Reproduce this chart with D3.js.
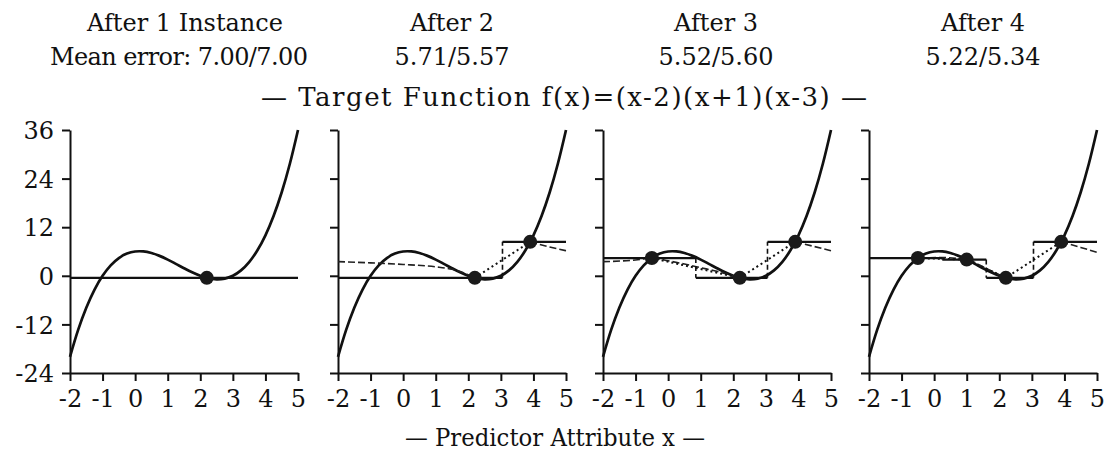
<!DOCTYPE html>
<html><head><meta charset="utf-8">
<script src="https://cdn.jsdelivr.net/npm/d3@7"></script>
<style>
html,body{margin:0;padding:0;background:#fff;}
svg{display:block;}
svg text{font-family:"DejaVu Serif",serif;fill:#111;}
</style></head>
<body>
<svg id="chart" width="1106" height="455"></svg>
<script>
// ---- data ----
const xTicks = [-2, -1, 0, 1, 2, 3, 4, 5];
const yTicks = [36, 24, 12, 0, -12, -24];
const panelTitles = ["After 1 Instance", "After 2", "After 3", "After 4"];
const errorLabels = ["Mean error: 7.00/7.00", "5.71/5.57", "5.52/5.60", "5.22/5.34"];
const targetLabel = "\u2014 Target Function f(x)=(x-2)(x+1)(x-3) \u2014";
const xLabel = "\u2014 Predictor Attribute x \u2014";

// target function samples
const targetX = [-2, -1.75, -1.5, -1.25, -1, -0.75, -0.5, -0.25, 0, 0.25, 0.5, 0.75, 1, 1.25, 1.5, 1.75, 2, 2.25, 2.5, 2.75, 3, 3.25, 3.5, 3.75, 4, 4.25, 4.5, 4.75, 5];
const targetY = [-20, -13.36, -7.88, -3.45, 0, 2.58, 4.38, 5.48, 6, 6.02, 5.63, 4.92, 4, 2.95, 1.88, 0.86, 0, -0.61, -0.88, -0.70, 0, 1.33, 3.38, 6.23, 10, 14.77, 20.63, 27.67, 36];

// training instances in order of arrival
const instanceX = [2.2, 3.9, -0.5, 1.0];
const instanceY = [-0.51, 8.38, 4.38, 4.0];

// nearest-neighbour step prediction per panel
const stepBreaks = [[], [3.05], [0.85, 3.05], [0.25, 1.6, 3.05]];
const stepLevels = [[-0.51], [-0.51, 8.38], [4.38, -0.51, 8.38], [4.38, 4.0, -0.51, 8.38]];

// weighted prediction (dashed) per panel, null = gap
const dashX = [
  [],
  [-2, -1, 0, 1, 1.5, 1.9, 2.2, null, 3.9, 4.5, 5],
  [-2, -1, -0.5, 0, 0.5, 1, 1.5, 2.2, null, 3.9, 4.5, 5],
  [-2, -0.5, 0.25, 1, 1.6, 2.2, null, 3.9, 4.5, 5]
];
const dashY = [
  [],
  [3.5, 3.2, 2.8, 2.2, 1.6, 0.6, -0.51, null, 8.38, 7.1, 6.2],
  [3.5, 3.9, 4.38, 3.7, 2.9, 2.0, 1.1, -0.51, null, 8.38, 7.2, 6.2],
  [4.38, 4.38, 4.5, 4.0, 1.8, -0.51, null, 8.38, 7.0, 5.8]
];

// ---- layout ----
const svg = d3.select("#chart");
const panelLeft = [70, 338, 603, 869];
const panelW = 228;
const yTop = 130, yBot = 373;
const y = d3.scaleLinear().domain([-24, 36]).range([yBot, yTop]);
const titleCx = [185, 452, 716, 983];
const FS = 24;

panelTitles.forEach((t, i) => {
  svg.append("text").attr("x", titleCx[i]).attr("y", 31).attr("text-anchor", "middle")
    .attr("font-size", FS).text(t);
  const e = svg.append("text").attr("x", i === 0 ? 179 : titleCx[i]).attr("y", 65).attr("text-anchor", "middle")
    .attr("font-size", FS).text(errorLabels[i]);
  if (i === 0) e.attr("textLength", 258).attr("lengthAdjust", "spacing");
});
svg.append("text").attr("x", 564).attr("y", 106).attr("text-anchor", "middle")
  .attr("font-size", 26).attr("textLength", 606).attr("lengthAdjust", "spacing").text(targetLabel);
svg.append("text").attr("x", 555).attr("y", 446).attr("text-anchor", "middle")
  .attr("font-size", FS).attr("textLength", 300).attr("lengthAdjust", "spacingAndGlyphs").text(xLabel);

panelTitles.forEach((t, p) => {
  const x = d3.scaleLinear().domain([-2, 5]).range([panelLeft[p], panelLeft[p] + panelW]);
  const g = svg.append("g");

  // axes
  const yAxis = d3.axisLeft(y).tickValues(yTicks).tickSize(8).tickSizeOuter(0)
    .tickFormat(p === 0 ? (d => String(d)) : () => "");
  const ya = g.append("g").attr("transform", `translate(${panelLeft[p]},0)`).call(yAxis);
  ya.attr("font-family", null);
  ya.select(".domain").attr("stroke", "#111").attr("stroke-width", 2);
  ya.selectAll(".tick line").attr("stroke", "#111").attr("stroke-width", 2);
  ya.selectAll(".tick text").attr("font-size", FS)
    .attr("fill", "#111").attr("x", -16).attr("dy", "0.36em");

  const xAxis = d3.axisBottom(x).tickValues(xTicks).tickSize(8).tickSizeOuter(0).tickFormat(d => String(d));
  const xa = g.append("g").attr("transform", `translate(0,${yBot})`).call(xAxis);
  xa.attr("font-family", null);
  xa.select(".domain").attr("stroke", "#111").attr("stroke-width", 2);
  xa.selectAll(".tick line").attr("stroke", "#111").attr("stroke-width", 2);
  xa.selectAll(".tick text").attr("font-size", FS)
    .attr("fill", "#111").attr("y", 17).attr("dy", "0.71em");

  // target curve
  const tline = d3.line().x(d => x(d[0])).y(d => y(d[1])).curve(d3.curveCatmullRom);
  g.append("path").datum(targetX.map((v, i) => [v, targetY[i]]))
    .attr("d", tline).attr("fill", "none").attr("stroke", "#111").attr("stroke-width", 2.7);

  // dashed weighted prediction
  if (dashX[p].length) {
    const dl = d3.line().defined(d => d[0] !== null).x(d => x(d[0])).y(d => y(d[1])).curve(d3.curveMonotoneX);
    g.append("path").datum(dashX[p].map((v, i) => [v, dashY[p][i]]))
      .attr("d", dl).attr("fill", "none").attr("stroke", "#222").attr("stroke-width", 1.6)
      .attr("stroke-dasharray", "7,3");
  }

  // dotted linear interpolation between instances
  const pts = instanceX.slice(0, p + 1).map((v, i) => [v, instanceY[i]]).sort((a, b) => a[0] - b[0]);
  if (pts.length > 1) {
    g.append("path").datum(pts).attr("d", d3.line().x(d => x(d[0])).y(d => y(d[1])))
      .attr("fill", "none").attr("stroke", "#111").attr("stroke-width", 2)
      .attr("stroke-dasharray", "2,3");
  }

  // step prediction
  const edges = [-2, ...stepBreaks[p], 5];
  stepLevels[p].forEach((lv, i) => {
    g.append("line").attr("x1", x(edges[i])).attr("x2", x(edges[i + 1]))
      .attr("y1", y(lv)).attr("y2", y(lv)).attr("stroke", "#111").attr("stroke-width", 2.2);
  });
  stepBreaks[p].forEach((b, i) => {
    g.append("line").attr("x1", x(b)).attr("x2", x(b))
      .attr("y1", y(stepLevels[p][i])).attr("y2", y(stepLevels[p][i + 1]))
      .attr("stroke", "#111").attr("stroke-width", 1.6).attr("stroke-dasharray", "5,3");
  });

  // instances
  g.selectAll("circle.inst").data(pts).enter().append("circle")
    .attr("cx", d => x(d[0])).attr("cy", d => y(d[1])).attr("r", 7).attr("fill", "#1a1a1a");
});
</script>
</body></html>
